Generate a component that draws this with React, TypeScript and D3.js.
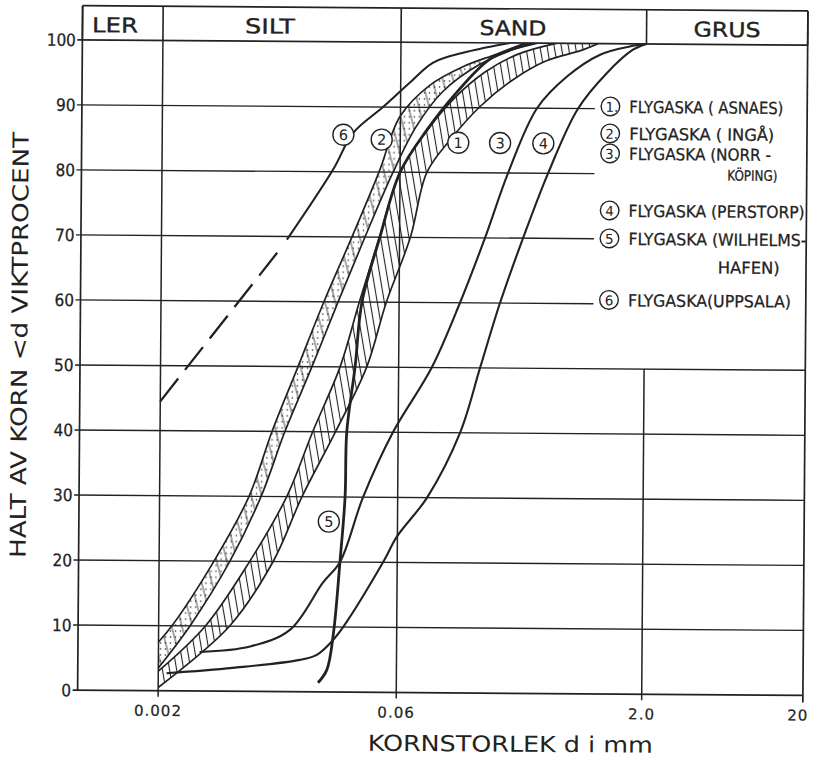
import React from "react";
import * as d3 from "d3";

type Pt = [number, number];

// Axis content
const sizeTicks = [0.002, 0.06, 2.0, 20];
const sizeTickLabels = ["0.002", "0.06", "2.0", "20"];
const percentTicks = [0, 10, 20, 30, 40, 50, 60, 70, 80, 90, 100];
const fractionNames = ["LER", "SILT", "SAND", "GRUS"];
const fractionBounds = [0.000633, 0.002, 0.06, 2.0, 20];

// Grain size distributions: [diameter mm, percent finer by weight]
// 1 Asnaes – band between two limiting curves
const asnaesUpper: Pt[] = [
  [0.002, 3], [0.0039, 10], [0.0073, 20], [0.0123, 30], [0.0177, 40], [0.026, 50],
  [0.034, 60], [0.045, 70], [0.06, 80], [0.085, 86], [0.13, 91.5], [0.2, 95.5],
  [0.32, 98.3], [0.55, 100],
];
const asnaesLower: Pt[] = [
  [0.002, 0.5], [0.0055, 10], [0.0102, 20], [0.0153, 30], [0.0245, 40], [0.038, 50],
  [0.05, 60], [0.07, 70], [0.088, 80], [0.122, 85], [0.187, 90.2], [0.3, 94.4],
  [0.48, 97.3], [0.78, 98.9], [1.0, 100],
];
// 2 Ingå – band between two limiting curves
const ingaUpper: Pt[] = [
  [0.002, 7.5], [0.00242, 10], [0.00438, 20], [0.00718, 30], [0.0099, 40], [0.01426, 50],
  [0.0205, 60], [0.0304, 70], [0.0444, 80], [0.0597, 88.6], [0.0908, 93.4],
  [0.1455, 96.3], [0.2366, 98.3], [0.353, 100],
];
const ingaLower: Pt[] = [
  [0.002, 3.5], [0.00313, 10], [0.0055, 20], [0.00853, 30], [0.0119, 40], [0.0174, 50],
  [0.0251, 60], [0.0366, 70], [0.0543, 80], [0.075, 87], [0.11, 92.5], [0.18, 96.5],
  [0.3, 99], [0.42, 100],
];
// 3 Norrköping
const norrkoping: Pt[] = [
  [0.0036, 6], [0.0074, 6.9], [0.01305, 9.5], [0.0208, 16.8], [0.0265, 20], [0.0366, 30],
  [0.0557, 40], [0.0963, 50], [0.1432, 60], [0.2033, 70], [0.2806, 80], [0.4217, 90],
  [0.645, 94.9], [1.033, 98.3], [1.65, 99.7], [2.0, 100],
];
// 4 Perstorp
const perstorp: Pt[] = [
  [0.00225, 2.7], [0.0058, 3.6], [0.0151, 4.9], [0.0192, 5.7], [0.0232, 7.5], [0.0279, 10],
  [0.049, 20], [0.0597, 24], [0.0913, 30], [0.1452, 40], [0.192, 50], [0.2535, 60],
  [0.35, 70], [0.497, 80], [0.758, 90], [1.141, 95.5], [1.65, 99.1], [2.0, 100],
];
// 5 Wilhelmshafen
const wilhelmshafen: Pt[] = [
  [0.0196, 1.4], [0.0222, 3.4], [0.0243, 9], [0.0265, 20.1], [0.0283, 30], [0.0288, 40],
  [0.0322, 50], [0.0353, 60], [0.0453, 70], [0.06, 80], [0.0875, 86.5], [0.13, 92],
  [0.214, 97.5], [0.33, 99.5], [0.4, 100],
];
// 6 Uppsala – extrapolated part and measured part
const uppsalaExtrapolated: Pt[] = [[0.002, 44.5], [0.0115, 68.8]];
const uppsala: Pt[] = [
  [0.012, 69.5], [0.023, 80.3], [0.0306, 86], [0.0467, 90], [0.0685, 93.8],
  [0.0953, 96.9], [0.1545, 98.6], [0.284, 100],
];

// Numbered markers placed beside the curves: [label, diameter, percent]
const curveMarkers: [string, number, number][] = [
  ["6", 0.0266, 85.7], ["2", 0.046, 85.0], ["1", 0.1374, 84.6],
  ["3", 0.2496, 84.6], ["4", 0.463, 84.6], ["5", 0.0225, 26.2],
];

const legendNumbers = ["1.", "2.", "3.", "4", "5", "6"];
const legendTexts = [
  ["FLYGASKA ( ASNAES)"],
  ["FLYGASKA ( INGÅ)"],
  ["FLYGASKA (NORR -", "KÖPING)"],
  ["FLYGASKA (PERSTORP)"],
  ["FLYGASKA (WILHELMS-", "HAFEN)"],
  ["FLYGASKA(UPPSALA)"],
];

const INK = "#222";
const FONT = "'DejaVu Sans', 'Liberation Sans', sans-serif";
const COND = "'DejaVu Sans Condensed', 'DejaVu Sans', sans-serif";

export default function App() {
  const W = 813;
  const H = 769;
  const x = d3.scaleLog().domain([fractionBounds[0], 20]).range([80, 805.3]);
  const y = d3.scaleLinear().domain([0, 100]).range([692.8, 42.5]);
  const headerTop = 8.3;
  const xL = x.range()[0];
  const xR = x.range()[1];

  const line = d3
    .line<Pt>()
    .x((d) => x(d[0]))
    .y((d) => y(d[1]))
    .curve(d3.curveCatmullRom.alpha(0.5));

  const band = (upper: Pt[], lower: Pt[]) =>
    (line(upper) as string) + (line([...lower].reverse()) as string).replace(/^M/, "L") + "Z";

  // legend layout (pixels)
  const legendRows = [
    { base: 111.5, wrap: 0 },
    { base: 138.5, wrap: 0 },
    { base: 158.5, wrap: 178.5 },
    { base: 215.5, wrap: 0 },
    { base: 243.5, wrap: 271.5 },
    { base: 305, wrap: 0 },
  ];
  const legendWidths = [154, 145, 142, 176, 178, 163];
  const legendWrapWidths = [0, 0, 50, 0, 62, 0];
  const legendWrapRight = [0, 0, 776, 0, 779, 0];
  const legendWrapSize = [0, 0, 14.5, 0, 16.5, 0];

  const headerCenters = [112.5, 267.5, 510.5, 724.5];
  const headerWidths = [46, 50, 67, 67];

  return (
    <svg
      width={W}
      height={H}
      viewBox={`0 0 ${W} ${H}`}
      style={{ display: "block", background: "#fff", position: "absolute", left: 0, top: 0 }}
    >
      <defs>
        <pattern id="hatch" patternUnits="userSpaceOnUse" width={7} height={12} patternTransform="rotate(-10)">
          <line x1={3.5} y1={0} x2={3.5} y2={12} stroke={INK} strokeWidth={1.1} />
        </pattern>
        <pattern id="dots" patternUnits="userSpaceOnUse" width={5} height={6}>
          <circle cx={2.5} cy={3} r={0.8} fill={INK} />
        </pattern>
        <pattern id="dotHatch" patternUnits="userSpaceOnUse" width={10} height={12} patternTransform="rotate(-15)">
          <line x1={5} y1={0} x2={5} y2={12} stroke={INK} strokeWidth={0.8} />
        </pattern>
        <clipPath id="plotClip">
          <rect x={xL} y={y(100)} width={xR - xL} height={y(0) - y(100)} />
        </clipPath>
      </defs>

      <g transform="rotate(0.42 443 367)" fontFamily={FONT} fill={INK}>
        {/* class header */}
        <line x1={xL} x2={xR} y1={headerTop} y2={headerTop} stroke={INK} strokeWidth={1.7} />
        {fractionBounds.map((b, i) => (
          <line key={`hb${i}`} x1={x(b)} x2={x(b)} y1={headerTop} y2={y(100)} stroke={INK} strokeWidth={1.6} />
        ))}
        {fractionNames.map((n, i) => (
          <text
            key={n}
            x={headerCenters[i]}
            y={34.8}
            fontSize={20.5}
            textAnchor="middle"
            textLength={headerWidths[i]}
            lengthAdjust="spacingAndGlyphs"
            stroke={INK}
            strokeWidth={0.35}
          >
            {n}
          </text>
        ))}

        {/* horizontal grid */}
        {percentTicks.map((p) => {
          const short = p >= 60 && p <= 90;
          return (
            <g key={`h${p}`}>
              <line x1={xL - 5} x2={short ? 593 : xR} y1={y(p)} y2={y(p)} stroke={INK} strokeWidth={p === 0 || p === 100 ? 1.7 : 1.4} />
              <text x={73.5} y={y(p) + 6.2} fontFamily={COND} fontSize={17} textAnchor="end" stroke={INK} strokeWidth={0.25}>
                {p}
              </text>
            </g>
          );
        })}

        {/* vertical grid */}
        <line x1={xL} x2={xL} y1={headerTop} y2={y(0)} stroke={INK} strokeWidth={1.7} />
        <line x1={xR} x2={xR} y1={headerTop} y2={y(0) + 7} stroke={INK} strokeWidth={1.7} />
        <line x1={x(0.002)} x2={x(0.002)} y1={y(100)} y2={y(0) + 6} stroke={INK} strokeWidth={1.5} />
        <line x1={x(0.06)} x2={x(0.06)} y1={y(100)} y2={y(0) + 6} stroke={INK} strokeWidth={1.5} />
        <line x1={x(2.0)} x2={x(2.0)} y1={y(50)} y2={y(0) + 6} stroke={INK} strokeWidth={1.5} />
        {sizeTicks.map((t, i) => (
          <text
            key={`xt${i}`}
            x={i === 3 ? 811 : x(t)}
            y={718}
            fontSize={15}
            textAnchor={i === 3 ? "end" : "middle"}
            letterSpacing={1}
            stroke={INK}
            strokeWidth={0.2}
          >
            {sizeTickLabels[i]}
          </text>
        ))}

        {/* bands */}
        <g clipPath="url(#plotClip)">
          <path d={band(ingaUpper, ingaLower)} fill="url(#dotHatch)" stroke="none" />
          <path d={band(ingaUpper, ingaLower)} fill="url(#dots)" stroke="none" />
          <path d={band(asnaesUpper, asnaesLower)} fill="url(#hatch)" stroke="none" />
          {[ingaUpper, ingaLower, asnaesUpper, asnaesLower].map((c, i) => (
            <path key={`be${i}`} d={line(c) as string} fill="none" stroke={INK} strokeWidth={1.7} />
          ))}
          <path d={line(norrkoping) as string} fill="none" stroke={INK} strokeWidth={2.1} />
          <path d={line(perstorp) as string} fill="none" stroke={INK} strokeWidth={2.1} />
          <path d={line(wilhelmshafen) as string} fill="none" stroke={INK} strokeWidth={2.8} />
          <path d={line(uppsala) as string} fill="none" stroke={INK} strokeWidth={2.1} />
          <path
            d={line(uppsalaExtrapolated) as string}
            fill="none"
            stroke={INK}
            strokeWidth={2.3}
            strokeDasharray="29 11"
          />
        </g>

        {/* curve markers */}
        {curveMarkers.map(([n, d, p]) => (
          <g key={`cm${n}`}>
            <circle cx={x(d)} cy={y(p)} r={10.5} fill="#fff" stroke={INK} strokeWidth={1.4} />
            <text x={x(d)} y={y(p) + 5.3} fontSize={14.5} textAnchor="middle">
              {n}
            </text>
          </g>
        ))}

        {/* legend */}
        {legendTexts.map((t, i) => (
          <g key={`lg${i}`}>
            <circle cx={608.5} cy={legendRows[i].base - 6.3} r={9.3} fill="#fff" stroke={INK} strokeWidth={1.4} />
            <text x={legendNumbers[i].length > 1 ? 610 : 608.5} y={legendRows[i].base - 1} fontSize={13.5} textAnchor="middle">
              {legendNumbers[i]}
            </text>
            <text
              x={627.5}
              y={legendRows[i].base}
              fontFamily={COND}
              fontSize={16.5}
              textLength={legendWidths[i]}
              lengthAdjust="spacingAndGlyphs"
              stroke={INK}
              strokeWidth={0.25}
            >
              {t[0]}
            </text>
            {t[1] && (
              <text
                x={legendWrapRight[i]}
                y={legendRows[i].wrap}
                fontFamily={COND}
                fontSize={legendWrapSize[i]}
                textAnchor="end"
                textLength={legendWrapWidths[i]}
                lengthAdjust="spacingAndGlyphs"
                stroke={INK}
                strokeWidth={0.25}
              >
                {t[1]}
              </text>
            )}
          </g>
        ))}

        {/* axis titles */}
        <text x={513} y={751.2} fontSize={22} textAnchor="middle" textLength={285} lengthAdjust="spacingAndGlyphs">
          KORNSTORLEK d i mm
        </text>
        <text
          transform={`translate(27, 348) rotate(-90)`}
          fontSize={22}
          textAnchor="middle"
          textLength={426}
          lengthAdjust="spacingAndGlyphs"
        >
          HALT AV KORN {"<"}d VIKTPROCENT
        </text>
      </g>
    </svg>
  );
}
